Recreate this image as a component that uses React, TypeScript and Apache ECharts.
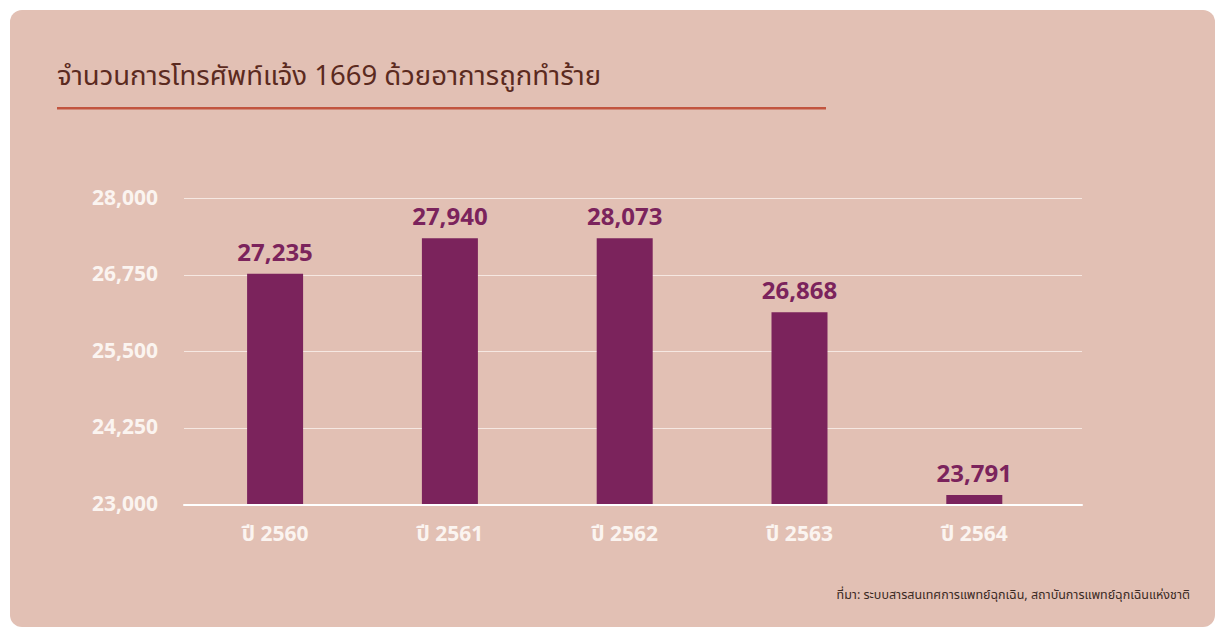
import React, { useEffect, useRef } from "react";
import * as echarts from "echarts";

const categories = ["ปี 2560", "ปี 2561", "ปี 2562", "ปี 2563", "ปี 2564"];
// bar heights as drawn against the axis in the picture
const barValues = [26768, 27346, 27346, 26137, 23152];
// printed value labels
const valueLabels = ["27,235", "27,940", "28,073", "26,868", "23,791"];
const yMin = 23000;
const yMax = 28000;
const yInterval = 1250;

const titleText = "จำนวนการโทรศัพท์แจ้ง 1669 ด้วยอาการถูกทำร้าย";
const sourceText = "ที่มา: ระบบสารสนเทศการแพทย์ฉุกเฉิน, สถาบันการแพทย์ฉุกเฉินแห่งชาติ";

const FONT = "'Noto Sans Thai', 'Noto Sans', Roboto, sans-serif";

export default function App() {
  const ref = useRef<HTMLDivElement>(null);
  useEffect(() => {
    document.body.style.margin = "0";
    if (!ref.current) return;
    const chart = echarts.init(ref.current, null, { renderer: "svg" });
    const top = 198.3;
    const height = 306;
    chart.setOption({
      animation: false,
      backgroundColor: "#ffffff",
      graphic: [
        {
          type: "rect",
          shape: { x: 10, y: 10, width: 1205, height: 617, r: 12 },
          style: { fill: "#e2c0b4" },
          z: -10,
        },
        {
          type: "text",
          x: 57,
          y: 76,
          style: {
            text: titleText,
            fill: "#5b2a20",
            font: `400 27.5px ${FONT}`,
            verticalAlign: "middle",
          },
        },
        {
          type: "rect",
          shape: { x: 57, y: 107, width: 769, height: 2.5 },
          style: { fill: "#c2543f" },
        },
        {
          type: "text",
          x: 1190,
          y: 595,
          style: {
            text: sourceText,
            fill: "#3b2a24",
            font: `400 12.5px ${FONT}`,
            align: "right",
            verticalAlign: "middle",
          },
        },
      ],
      grid: [
        { left: 184, top, width: 898, height },
        { left: 187.7, top, width: 874, height },
      ],
      xAxis: [
        {
          type: "category",
          gridIndex: 0,
          data: categories,
          axisLine: { show: true, lineStyle: { color: "#ffffff", width: 2 } },
          axisTick: { show: false },
          axisLabel: { show: false },
          splitLine: { show: false },
          z: 5,
        },
        {
          type: "category",
          gridIndex: 1,
          data: categories,
          axisLine: { show: false },
          axisTick: { show: false },
          axisLabel: {
            color: "#fbf4f0",
            fontFamily: FONT,
            fontWeight: "bold",
            fontSize: 21,
            margin: 20,
          },
        },
      ],
      yAxis: [
        {
          type: "value",
          gridIndex: 0,
          min: yMin,
          max: yMax,
          interval: yInterval,
          axisLine: { show: false },
          axisTick: { show: false },
          axisLabel: {
            color: "#fbf4f0",
            fontFamily: FONT,
            fontWeight: "bold",
            fontSize: 21,
            margin: 26,
            verticalAlign: "middle",
            padding: [0, 0, 5, 0],
            formatter: (v: number) => v.toLocaleString("en-US"),
          },
          splitLine: { show: true, lineStyle: { color: "#f6e8e2", width: 1 } },
        },
        {
          type: "value",
          gridIndex: 1,
          min: yMin,
          max: yMax,
          interval: yInterval,
          show: false,
          splitLine: { show: false },
        },
      ],
      series: [
        {
          type: "bar",
          xAxisIndex: 1,
          yAxisIndex: 1,
          data: barValues,
          barWidth: 56,
          itemStyle: { color: "#7b235c" },
          label: {
            show: true,
            position: "top",
            distance: 8,
            color: "#7b235c",
            fontFamily: FONT,
            fontWeight: "bold",
            fontSize: 24,
            formatter: (p: any) => valueLabels[p.dataIndex],
          },
        },
      ],
    });
    return () => chart.dispose();
  }, []);
  return <div ref={ref} style={{ width: 1225, height: 637 }} />;
}
